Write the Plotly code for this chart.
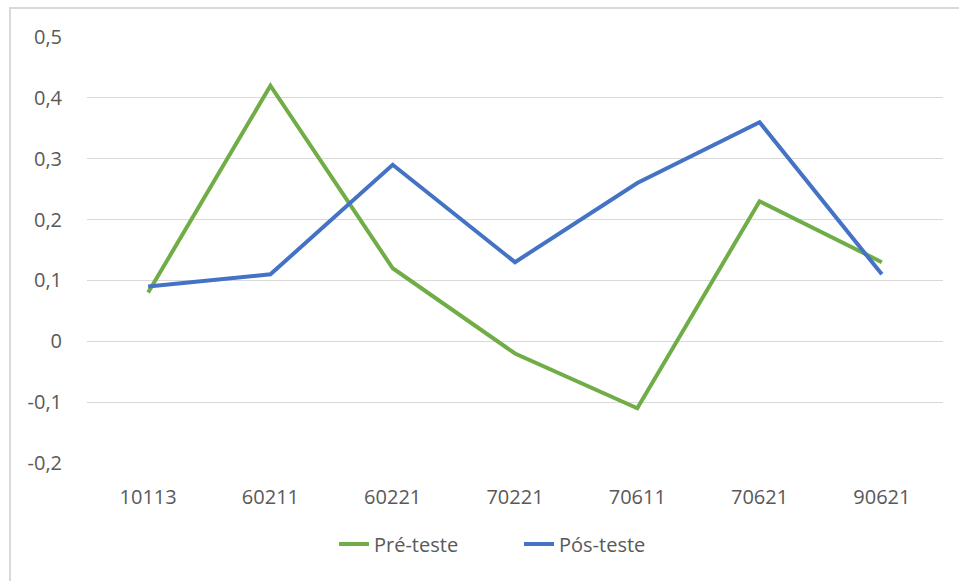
import plotly.graph_objects as go

categories = ["10113", "60211", "60221", "70221", "70611", "70621", "90621"]
pre_teste = [0.08, 0.42, 0.12, -0.02, -0.11, 0.23, 0.13]
pos_teste = [0.09, 0.11, 0.29, 0.13, 0.26, 0.36, 0.11]
y_ticks = [-0.2, -0.1, 0, 0.1, 0.2, 0.3, 0.4, 0.5]
y_tick_labels = ["-0,2", "-0,1", "0", "0,1", "0,2", "0,3", "0,4", "0,5"]

FONT = "Open Sans"
TXT = "#595959"

fig = go.Figure()
fig.add_trace(go.Scatter(x=categories, y=pre_teste, mode="lines", name="Pré-teste",
                         line=dict(color="#70AD47", width=4)))
fig.add_trace(go.Scatter(x=categories, y=pos_teste, mode="lines", name="Pós-teste",
                         line=dict(color="#4472C4", width=4)))

fig.update_layout(
    width=959, height=581,
    margin=dict(l=87, r=16, t=37, b=118),
    paper_bgcolor="white", plot_bgcolor="white",
    font=dict(family=FONT, size=20, color=TXT),
    showlegend=True,
    legend=dict(orientation="h", x=(340 - 87 - 6) / 856, xanchor="left", y=-0.19, yanchor="middle",
                font=dict(family=FONT, size=20, color=TXT),
                entrywidth=140, entrywidthmode="pixels"),
    xaxis=dict(type="category", showgrid=False, zeroline=False, showline=False,
               ticks="outside", ticklen=16, tickcolor="rgba(0,0,0,0)",
               range=[-0.5, len(categories) - 0.5]),
    yaxis=dict(range=[-0.2, 0.5], tickvals=y_ticks, ticktext=y_tick_labels,
               showgrid=True, gridcolor="#d9d9d9", gridwidth=1, zeroline=False,
               showline=False, ticks="outside", ticklen=20, tickcolor="rgba(0,0,0,0)"),
    shapes=[dict(type="rect", xref="paper", yref="paper",
                 x0=(10 - 87) / 856, x1=1.2, y0=-0.5, y1=1 + (37 - 8) / 426,
                 line=dict(color="#d9d9d9", width=2), fillcolor="rgba(0,0,0,0)", layer="below")],
)

fig.write_html("out.html")
